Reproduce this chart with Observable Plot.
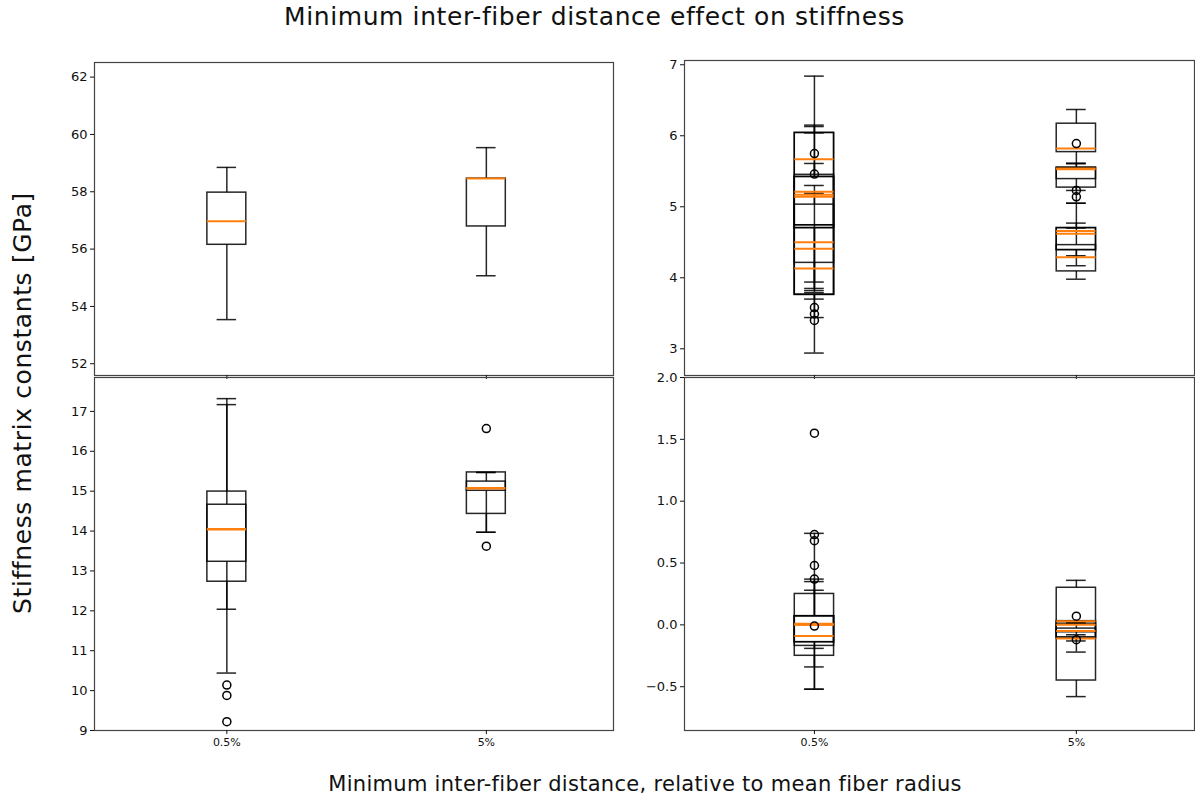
<!DOCTYPE html>
<html>
<head>
<meta charset="utf-8">
<script src="https://cdn.jsdelivr.net/npm/d3@7"></script>
<script src="https://cdn.jsdelivr.net/npm/@observablehq/plot@0.6"></script>
<style>
  body { margin: 0; background: #fff; }
  #root { position: relative; width: 1195px; height: 803px; overflow: hidden; font-family: "DejaVu Sans", sans-serif; color: #111; }
  .panel { position: absolute; }
  .txt { position: absolute; white-space: nowrap; }
</style>
</head>
<body>
<div id="root">
  <div class="txt" id="title" style="left:0;width:1189px;text-align:center;top:2px;font-size:25px;letter-spacing:0.6px;">Minimum inter-fiber distance effect on stiffness</div>
  <div class="txt" id="xlabel" style="left:50px;width:1190px;text-align:center;top:772px;font-size:21px;letter-spacing:0.3px;">Minimum inter-fiber distance, relative to mean fiber radius</div>
  <div class="txt" id="ylabel" style="left:22px;top:403px;font-size:25px;letter-spacing:0.6px;transform:translate(-50%,-50%) rotate(-90deg);">Stiffness matrix constants [GPa]</div>
</div>
<script>
// ---------------- data ----------------
const categories = ["0.5%", "5%"];
const categoryPositions = [1, 2];

// each box: [category, whiskerLow, q1, median, q3, whiskerHigh]
const topLeftBoxes = [
  ["0.5%", 53.54, 56.15, 56.97, 57.97, 58.85],
  ["5%",   55.07, 56.79, 58.46, 58.46, 59.54]
];
const topLeftOutliers = [];

const topRightBoxes = [
  ["0.5%", 2.94, 3.76, 4.50, 5.42, 6.84],
  ["0.5%", 3.94, 4.70, 5.67, 6.04, 6.15],
  ["0.5%", 3.44, 3.76, 4.41, 5.03, 5.30],
  ["0.5%", 3.79, 4.21, 5.21, 6.04, 6.13],
  ["0.5%", 3.82, 4.74, 5.17, 5.45, 5.61],
  ["0.5%", 3.85, 4.70, 5.14, 5.42, 6.04],
  ["0.5%", 3.70, 3.76, 4.13, 4.74, 5.19],
  ["5%",   5.61, 5.77, 5.82, 6.17, 6.37],
  ["5%",   5.05, 5.27, 5.54, 5.55, 5.61],
  ["5%",   5.23, 5.39, 5.53, 5.55, 5.61],
  ["5%",   4.31, 4.39, 4.66, 4.70, 4.77],
  ["5%",   4.17, 4.39, 4.62, 4.70, 5.05],
  ["5%",   3.98, 4.09, 4.29, 4.46, 4.70]
];
const topRightOutliers = [
  ["0.5%", 3.40], ["0.5%", 5.46], ["0.5%", 3.58], ["0.5%", 3.49], ["0.5%", 5.75],
  ["5%", 5.89], ["5%", 5.23], ["5%", 5.14]
];

const bottomLeftBoxes = [
  ["0.5%", 10.44, 12.73, 14.04, 14.99, 17.32],
  ["0.5%", 12.04, 13.23, 14.05, 14.66, 17.17],
  ["5%",   13.97, 14.43, 15.07, 15.47, 15.47],
  ["5%",   13.97, 15.01, 15.08, 15.24, 15.47]
];
const bottomLeftOutliers = [
  ["0.5%", 10.14], ["0.5%", 9.88], ["0.5%", 9.22],
  ["5%", 16.57], ["5%", 13.62]
];

const bottomRightBoxes = [
  ["0.5%", -0.52, -0.25, 0.00, 0.25, 0.74],
  ["0.5%", -0.52, -0.17, 0.00, 0.07, 0.37],
  ["0.5%", -0.34, -0.14, -0.09, 0.07, 0.28],
  ["0.5%", -0.19, -0.14, 0.01, 0.07, 0.35],
  ["5%",   -0.58, -0.45, 0.03, 0.30, 0.36],
  ["5%",   -0.22, -0.10, -0.05, 0.01, 0.02],
  ["5%",   -0.08, -0.06, 0.00, 0.03, 0.03],
  ["5%",   -0.13, -0.11, -0.11, -0.03, 0.01]
];
const bottomRightOutliers = [
  ["0.5%", 1.55], ["0.5%", 0.73], ["0.5%", 0.68], ["0.5%", 0.48], ["0.5%", 0.37], ["0.5%", -0.01],
  ["5%", 0.07], ["5%", -0.12]
];

const topLeftTicks = [52, 54, 56, 58, 60, 62];
const topRightTicks = [3, 4, 5, 6, 7];
const bottomLeftTicks = [9, 10, 11, 12, 13, 14, 15, 16, 17];
const bottomRightTicks = [-0.5, 0.0, 0.5, 1.0, 1.5, 2.0];

// ---------------- drawing ----------------
const posOf = c => categoryPositions[categories.indexOf(c)];
const BOX_W = 0.15, CAP_W = 0.075;
const MEDIAN = "#ff7f0e";

function panel(opts) {
  const rows = opts.boxes.map(([c, lo, q1, med, q3, hi]) => ({x: posOf(c), lo, q1, med, q3, hi}));
  const outs = opts.outliers.map(([c, v]) => ({x: posOf(c), v}));
  const lineStyle = {stroke: "#000", strokeWidth: 1.5, strokeOpacity: 0.85};
  const svg = Plot.plot({
    width: opts.width, height: opts.height,
    marginLeft: opts.ml, marginRight: opts.mr, marginTop: opts.mt, marginBottom: opts.mb,
    style: {fontFamily: "DejaVu Sans, sans-serif", fontSize: "13px", color: "#111", background: "transparent", overflow: "visible"},
    x: {type: "linear", domain: opts.xDomain},
    y: {type: "linear", domain: opts.yDomain},
    marks: [
      Plot.ruleX(rows, {x: "x", y1: "lo", y2: "q1", ...lineStyle}),
      Plot.ruleX(rows, {x: "x", y1: "q3", y2: "hi", ...lineStyle}),
      Plot.ruleY(rows, {y: "lo", x1: d => d.x - CAP_W / 2, x2: d => d.x + CAP_W / 2, ...lineStyle}),
      Plot.ruleY(rows, {y: "hi", x1: d => d.x - CAP_W / 2, x2: d => d.x + CAP_W / 2, ...lineStyle}),
      Plot.rect(rows, {x1: d => d.x - BOX_W / 2, x2: d => d.x + BOX_W / 2, y1: "q1", y2: "q3", fill: "none", ...lineStyle}),
      Plot.ruleY(rows, {y: "med", x1: d => d.x - BOX_W / 2, x2: d => d.x + BOX_W / 2, stroke: MEDIAN, strokeWidth: 2}),
      Plot.dot(outs, {x: "x", y: "v", r: 4, stroke: "#000", strokeWidth: 1.5, fill: "none"}),
      Plot.frame({stroke: "#444", strokeWidth: 1.2}),
      Plot.axisY({ticks: opts.yTicks, tickFormat: opts.yFormat, tickSize: 4, tickPadding: 3, label: null, fontSize: 13}),
      Plot.axisX({ticks: categoryPositions, tickFormat: opts.showX ? (d => categories[categoryPositions.indexOf(d)]) : (() => ""),
                  tickSize: 4, tickPadding: 4, label: null, fontSize: 11})
    ]
  });
  svg.classList.add("panel");
  svg.style.left = opts.left + "px";
  svg.style.top = opts.top + "px";
  document.getElementById("root").appendChild(svg);
}

const fmtInt = d => String(d);
const fmtDec = d => (d < 0 ? "\u2212" + Math.abs(d).toFixed(1) : d.toFixed(1));

// top-left: frame x 94..613, y 62..375
panel({boxes: topLeftBoxes, outliers: topLeftOutliers, xDomain: [0.49, 2.49], yDomain: [51.59, 62.51],
  yTicks: topLeftTicks, yFormat: fmtInt, showX: false,
  left: 44, top: 52, width: 50 + 519 + 5, height: 10 + 313 + 6, ml: 50, mr: 5, mt: 10, mb: 6});
// bottom-left: frame x 94..613, y 377..730
panel({boxes: bottomLeftBoxes, outliers: bottomLeftOutliers, xDomain: [0.49, 2.49], yDomain: [9, 17.85],
  yTicks: bottomLeftTicks, yFormat: fmtInt, showX: true,
  left: 44, top: 365, width: 50 + 519 + 5, height: 12 + 353 + 30, ml: 50, mr: 5, mt: 12, mb: 30});
// top-right: frame x 684..1194, y 60..375
panel({boxes: topRightBoxes, outliers: topRightOutliers, xDomain: [0.504, 2.451], yDomain: [2.624, 7.06],
  yTicks: topRightTicks, yFormat: fmtInt, showX: false,
  left: 634, top: 50, width: 50 + 510 + 1, height: 10 + 315 + 6, ml: 50, mr: 1, mt: 10, mb: 6});
// bottom-right: frame x 684..1194, y 377..730
panel({boxes: bottomRightBoxes, outliers: bottomRightOutliers, xDomain: [0.504, 2.451], yDomain: [-0.854, 2.0],
  yTicks: bottomRightTicks, yFormat: fmtDec, showX: true,
  left: 634, top: 365, width: 50 + 510 + 1, height: 12 + 353 + 30, ml: 50, mr: 1, mt: 12, mb: 30});
</script>
</body>
</html>
